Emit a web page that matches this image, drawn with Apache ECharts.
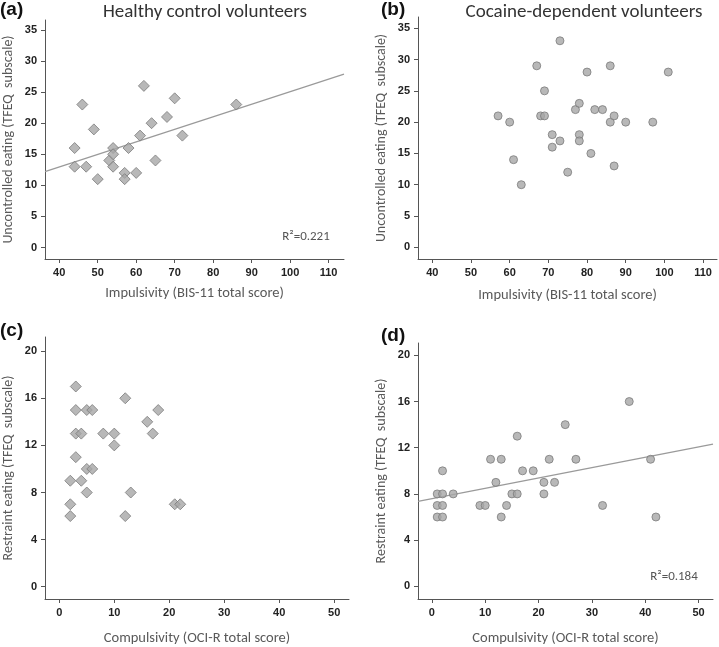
<!DOCTYPE html>
<html>
<head>
<meta charset="utf-8">
<script src="https://cdn.jsdelivr.net/npm/echarts@6/dist/echarts.min.js"></script>
<style>
html,body{margin:0;padding:0;background:#fff;}
#chart{width:719px;height:647px;}
</style>
</head>
<body>
<div id="chart"></div>
<script>
// panel data
var healthyImpUnc = [[44,16],[44,13],[46,23],[47,13],[49,19],[50,11],[53,14],[54,16],[54,15],[54,13],
    [57,12],[57,11],[58,16],[60,12],[61,18],[62,26],[64,20],[65,14],[68,21],[70,24],[72,18],[86,23]];
var cocaineImpUnc = [[57,21],[60,20],[61,14],[63,10],[67,29],[68,21],[69,21],[69,25],[71,18],[71,16],
    [73,33],[73,17],[75,12],[77,22],[78,23],[78,18],[78,17],[80,28],[81,15],[82,22],[84,22],[86,29],
    [86,20],[87,21],[87,13],[90,20],[97,20],[101,28]];
var healthyCompRes = [[3,17],[3,15],[3,13],[3,11],[2,9],[2,7],[2,6],[4,13],[4,9],[5,15],[5,10],[5,8],
    [6,15],[6,10],[8,13],[10,13],[10,12],[12,16],[12,6],[13,8],[16,14],[17,13],[18,15],[21,7],[22,7]];
var cocaineCompRes = [[1,8],[1,7],[1,6],[2,10],[2,8],[2,7],[2,6],[4,8],[9,7],[10,7],[11,11],[12,9],
    [13,11],[13,6],[14,7],[15,8],[16,13],[16,8],[17,10],[19,10],[21,9],[21,8],[22,11],[23,9],[25,14],
    [27,11],[32,7],[37,16],[41,11],[42,6]];
var fitLineA = [[36.3,12.2],[114,27.9]];
var fitLineD = [[-2.6,7.36],[52.7,12.32]];

var impulsivityTicks = [40,50,60,70,80,90,100,110];
var uncontrolledTicks = [0,5,10,15,20,25,30,35];
var compulsivityTicks = [0,10,20,30,40,50];
var restraintTicks = [0,4,8,12,16,20];

var textFont = 'Carlito, "Open Sans", sans-serif';
var axisColor = '#555';

function makeX(idx, min, max, ticks, name, gap){
    return {
        type:'value', gridIndex:idx, min:min, max:max,
        name:name, nameLocation:'middle', nameGap:gap,
        nameTextStyle:{fontFamily:textFont, fontSize:14.5, color:'#595959'},
        axisLine:{show:true, onZero:false, lineStyle:{color:axisColor, width:1}},
        axisTick:{show:true, length:4, customValues:ticks, lineStyle:{color:axisColor}},
        axisLabel:{customValues:ticks, fontFamily:'"Liberation Sans", Arial, sans-serif', fontWeight:'bold',
            fontSize:11, color:'#222', margin:8},
        splitLine:{show:false}
    };
}
function makeY(idx, min, max, ticks, name){
    return {
        type:'value', gridIndex:idx, min:min, max:max,
        name:name, nameLocation:'middle', nameGap:30,
        nameTextStyle:{fontFamily:textFont, fontSize:14, color:'#595959'},
        axisLine:{show:true, onZero:false, lineStyle:{color:axisColor, width:1}},
        axisTick:{show:true, length:4, customValues:ticks, lineStyle:{color:axisColor}},
        axisLabel:{customValues:ticks, fontFamily:'"Liberation Sans", Arial, sans-serif', fontWeight:'bold',
            fontSize:11, color:'#222', margin:8},
        splitLine:{show:false}
    };
}
function dots(idx, data, shape){
    return {
        type:'scatter', xAxisIndex:idx, yAxisIndex:idx, data:data,
        symbol:shape, symbolSize: shape=='diamond' ? 11 : 8,
        itemStyle:{color:'#a6a6a6', borderColor:'#7c7c7c', borderWidth:1},
        z:3
    };
}
function fit(idx, data){
    return {
        type:'line', xAxisIndex:idx, yAxisIndex:idx, data:data,
        showSymbol:false, symbol:'none', silent:true,
        lineStyle:{color:'#9a9a9a', width:1.2}, z:2
    };
}

var myChart = echarts.init(document.getElementById('chart'));
var uncName = 'Uncontrolled eating (TFEQ  subscale)';
var resName = 'Restraint eating (TFEQ  subscale)';
var impName = 'Impulsivity (BIS-11 total score)';
var compName = 'Compulsivity (OCI-R total score)';

var option = {
    animation:false,
    backgroundColor:'#fff',
    grid:[
        {left:45, top:20, width:299, height:239},
        {left:418, top:17, width:299, height:242},
        {left:45, top:337, width:304, height:263},
        {left:418, top:343, width:295, height:258}
    ],
    xAxis:[
        makeX(0, 36.3, 114, impulsivityTicks, impName, 27),
        makeX(1, 36.3, 113.6, impulsivityTicks, impName, 29),
        makeX(2, -2.6, 52.7, compulsivityTicks, compName, 32),
        makeX(3, -2.6, 52.7, compulsivityTicks, compName, 32)
    ],
    yAxis:[
        makeY(0, -1.85, 36.6, uncontrolledTicks, uncName),
        makeY(1, -1.87, 36.8, uncontrolledTicks, uncName),
        makeY(2, -1.04, 21.2, restraintTicks, resName),
        makeY(3, -1.1, 21.07, restraintTicks, resName)
    ],
    series:[
        fit(0, fitLineA),
        dots(0, healthyImpUnc, 'diamond'),
        dots(1, cocaineImpUnc, 'circle'),
        dots(2, healthyCompRes, 'diamond'),
        fit(3, fitLineD),
        dots(3, cocaineCompRes, 'circle')
    ],
    graphic:[
        {type:'text', left:0, top:0, style:{text:'(a)', font:'bold 19px "Liberation Sans", Arial, sans-serif', fill:'#111'}},
        {type:'text', left:381, top:0, style:{text:'(b)', font:'bold 19px "Liberation Sans", Arial, sans-serif', fill:'#111'}},
        {type:'text', left:0, top:321, style:{text:'(c)', font:'bold 19px "Liberation Sans", Arial, sans-serif', fill:'#111'}},
        {type:'text', left:381, top:326, style:{text:'(d)', font:'bold 19px "Liberation Sans", Arial, sans-serif', fill:'#111'}},
        {type:'text', x:205, y:12, style:{text:'Healthy control volunteers', font:'19px ' + textFont, fill:'#333', align:'center', verticalAlign:'middle'}},
        {type:'text', x:584, y:12, style:{text:'Cocaine-dependent volunteers', font:'19px ' + textFont, fill:'#333', align:'center', verticalAlign:'middle'}},
        {type:'text', x:306, y:237, style:{text:'R\u00b2=0.221', font:'13px ' + textFont, fill:'#555', align:'center', verticalAlign:'middle'}},
        {type:'text', x:674, y:577, style:{text:'R\u00b2=0.184', font:'13px ' + textFont, fill:'#555', align:'center', verticalAlign:'middle'}}
    ]
};
myChart.setOption(option);
</script>
</body>
</html>
